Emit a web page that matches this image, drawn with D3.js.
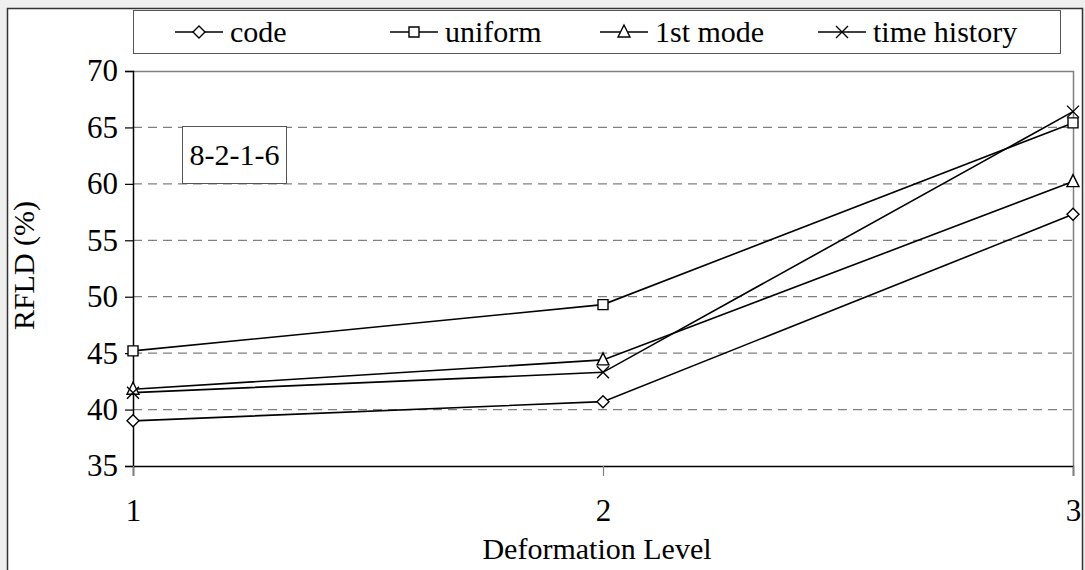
<!DOCTYPE html>
<html>
<head>
<meta charset="utf-8">
<script src="https://cdn.jsdelivr.net/npm/d3@7/dist/d3.min.js"></script>
<style>
  html, body { margin: 0; padding: 0; background: #fff; }
  svg { display: block; }
</style>
</head>
<body>
<svg id="chart" width="1085" height="570"></svg>
<script>
// Deformation levels on the x axis
const levels = [1, 2, 3];
// RFLD (%) for each load pattern
const code = [39.0, 40.7, 57.3];
const uniform = [45.2, 49.3, 65.4];
const firstMode = [41.8, 44.4, 60.2];
const timeHistory = [41.5, 43.3, 66.4];
const seriesNames = ["code", "uniform", "1st mode", "time history"];
const seriesMarkers = ["diamond", "square", "triangle", "cross"];
const yTicks = [35, 40, 45, 50, 55, 60, 65, 70];
const gridValues = [40, 45, 50, 55, 60, 65];
const panelLabel = "8-2-1-6";

const FONT = "'Liberation Serif', 'Times New Roman', serif";

const series = [code, uniform, firstMode, timeHistory].map((vals, i) => ({
  name: seriesNames[i], marker: seriesMarkers[i],
  points: vals.map((v, j) => ({ x: levels[j], y: v }))
}));

const svg = d3.select("#chart");
const W = 1085, H = 570;
const plot = { left: 133, right: 1073, top: 71, bottom: 466 };

// light page background outside the chart frame
svg.append("rect").attr("width", W).attr("height", H).attr("fill", "#efefef");
svg.append("rect").attr("x", 7.5).attr("y", 8.5).attr("width", 1075).attr("height", 570)
  .attr("fill", "#fff").attr("stroke", "#333").attr("stroke-width", 1.5);

const x = d3.scaleLinear().domain([1, 3]).range([plot.left, plot.right]);
const y = d3.scaleLinear().domain([35, 70]).range([plot.bottom, plot.top]);

// plot area border (top and right)
svg.append("path")
  .attr("d", `M${plot.left},${plot.top + 0.5}H${plot.right + 0.5}V${plot.bottom}`)
  .attr("fill", "none").attr("stroke", "#808080").attr("stroke-width", 1.5);

// dashed horizontal gridlines
svg.append("g").selectAll("line").data(gridValues).join("line")
  .attr("x1", plot.left).attr("x2", plot.right)
  .attr("y1", d => y(d)).attr("y2", d => y(d))
  .attr("stroke", "#808080").attr("stroke-width", 1.3)
  .attr("stroke-dasharray", "9,6");

// y axis
const yAxis = svg.append("g").attr("transform", `translate(${plot.left},0)`)
  .call(d3.axisLeft(y).tickValues(yTicks).tickSize(8).tickPadding(7).tickFormat(d3.format("d")));
yAxis.select(".domain").attr("stroke", "#000").attr("stroke-width", 1.5);
yAxis.selectAll(".tick line").attr("stroke", "#000").attr("stroke-width", 1.2);
yAxis.selectAll(".tick text").style("font-family", FONT).style("font-size", "31px").attr("fill", "#000");

// x axis
const xAxis = svg.append("g").attr("transform", `translate(0,${plot.bottom})`)
  .call(d3.axisBottom(x).tickValues(levels).tickSize(10).tickPadding(23).tickFormat(d3.format("d")));
xAxis.select(".domain").attr("stroke", "#000").attr("stroke-width", 1.5);
xAxis.selectAll(".tick line").attr("stroke", "#808080").attr("stroke-width", 1.2);
xAxis.selectAll(".tick text").style("font-family", FONT).style("font-size", "31px").attr("fill", "#000");

// axis titles
svg.append("text").attr("x", 597).attr("y", 559)
  .attr("text-anchor", "middle").style("font-family", FONT).style("font-size", "30px")
  .text("Deformation Level");
svg.append("text")
  .attr("transform", `translate(34,${(plot.top + plot.bottom) / 2 - 3}) rotate(-90)`)
  .attr("text-anchor", "middle").style("font-family", FONT).style("font-size", "30px")
  .text("RFLD (%)");

// marker shapes
function drawMarker(g, type, cx, cy) {
  const s = g.append("path").attr("fill", "#fff").attr("stroke", "#000").attr("stroke-width", 1.4);
  if (type === "diamond") s.attr("d", `M${cx},${cy - 6}L${cx + 6},${cy}L${cx},${cy + 6}L${cx - 6},${cy}Z`);
  else if (type === "square") s.attr("d", `M${cx - 5},${cy - 5}h10v10h-10Z`);
  else if (type === "triangle") s.attr("d", `M${cx},${cy - 7}L${cx + 6},${cy + 5}L${cx - 6},${cy + 5}Z`);
  else s.attr("fill", "none").attr("d", `M${cx - 6},${cy - 6}L${cx + 6},${cy + 6}M${cx + 6},${cy - 6}L${cx - 6},${cy + 6}`);
}

const line = d3.line().x(d => x(d.x)).y(d => y(d.y));
const lines = svg.append("g");
series.forEach(s => {
  lines.append("path").datum(s.points).attr("d", line)
    .attr("fill", "none").attr("stroke", "#000").attr("stroke-width", 1.6);
});
series.forEach(s => {
  s.points.forEach(p => drawMarker(lines, s.marker, x(p.x), y(p.y)));
});

// panel label box
const lb = svg.append("g");
lb.append("rect").attr("x", 182.5).attr("y", 126.5).attr("width", 104).attr("height", 57)
  .attr("fill", "#fff").attr("stroke", "#555").attr("stroke-width", 1);
lb.append("text").attr("x", 234.5).attr("y", 165).attr("text-anchor", "middle")
  .style("font-family", FONT).style("font-size", "30px").text(panelLabel);

// legend
const legend = svg.append("g");
legend.append("rect").attr("x", 133.5).attr("y", 10.5).attr("width", 927).attr("height", 43)
  .attr("fill", "#fff").attr("stroke", "#555").attr("stroke-width", 1);
const legendX = [175, 390, 600, 818];
series.forEach((s, i) => {
  const lx = legendX[i], ly = 32;
  legend.append("line").attr("x1", lx).attr("x2", lx + 48).attr("y1", ly).attr("y2", ly)
    .attr("stroke", "#000").attr("stroke-width", 1.6);
  drawMarker(legend, s.marker, lx + 24, ly);
  legend.append("text").attr("x", lx + 55).attr("y", ly + 10)
    .style("font-family", FONT).style("font-size", "30px").text(s.name);
});
</script>
</body>
</html>
